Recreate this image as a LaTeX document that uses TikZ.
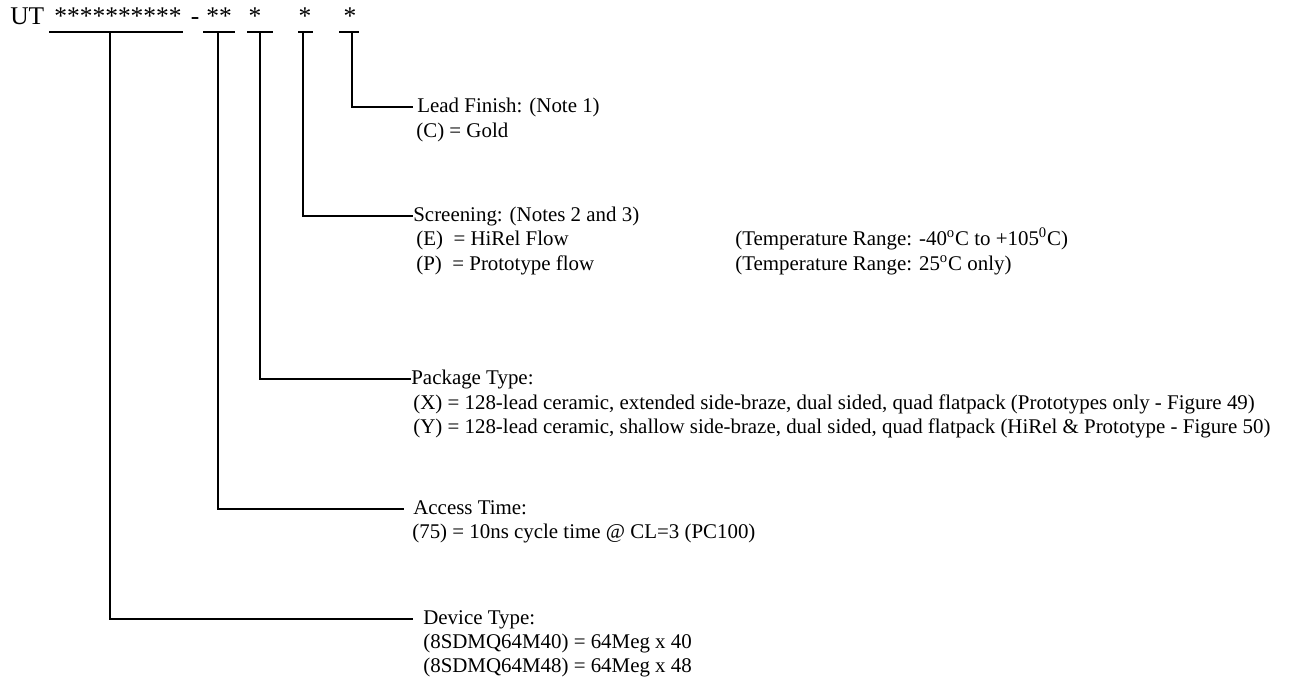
\documentclass[tikz,border=0pt]{standalone}
\usepackage{fontspec}
\setmainfont{Liberation Serif}
\usetikzlibrary{positioning}
\tikzset{
  partno/.style={font=\fontsize{14.5}{16}\selectfont, inner sep=0pt, anchor=base},
  uline/.style={line width=1.7pt, line cap=butt},
  leader/.style={line width=1.7pt, line join=miter, line cap=butt},
  entry/.style={font=\fontsize{11.9}{14}\selectfont, inner sep=0pt, anchor=west,
                text height=8.6pt, text depth=2.7pt},
}

\begin{document}
\begin{tikzpicture}[x=0.02cm, y=-0.02cm]
\useasboundingbox (0,0) rectangle (1297,685);
% part number
\node[partno, anchor=base west] (ut) at (10,25) {UT};
\node[partno] (devs) at (118,25) {**********};
\node[partno] (dash) at (195,25) {-};
\node[partno] (accs) at (219,25) {**};
\node[partno] (pkgs) at (255,25) {*};
\node[partno] (scrs) at (305,25) {*};
\node[partno] (leads) at (350,25) {*};
\draw[uline] (49,32) -- (183,32);
\draw[uline] (203,32) -- (235,32);
\draw[uline] (247,32) -- (273,32);
\draw[uline] (298,32) -- (313,32);
\draw[uline] (339,32) -- (359,32);
\coordinate (devtap) at (110,32);
\coordinate (acctap) at (218,32);
\coordinate (pkgtap) at (260,32);
\coordinate (scrtap) at (303,32);
\coordinate (leadtap) at (352,32);
% lead finish
\node[entry] (leadhd) at (417,107) {Lead Finish: (Note 1)};
\node[entry] (leadc) at (416,132) {(C) = Gold};
% screening
\node[entry] (scrhd) at (413,216) {Screening: (Notes 2 and 3)};
\node[entry] (scre) at (416,240) {(E)\ \ = HiRel Flow};
\node[entry] (scrp) at (416,265) {(P)\ \ = Prototype flow};
\node[entry] (scret) at (735,240) {(Temperature Range: -40\textsuperscript{o}C to +105\textsuperscript{0}C)};
\node[entry] (scrpt) at (735,265) {(Temperature Range: 25\textsuperscript{o}C only)};
% package type
\node[entry] (pkghd) at (411,379) {Package Type:};
\node[entry] (pkgx) at (413,404) {(X) = 128-lead ceramic, extended side-braze, dual sided, quad flatpack (Prototypes only - Figure 49)};
\node[entry] (pkgy) at (413,428) {(Y) = 128-lead ceramic, shallow side-braze, dual sided, quad flatpack (HiRel \& Prototype - Figure 50)};
% access time
\node[entry] (acchd) at (413,509) {Access Time:};
\node[entry] (acc75) at (412,533) {(75) = 10ns cycle time @ CL=3 (PC100)};
% device type
\node[entry] (devhd) at (423,619) {Device Type:};
\node[entry] (dev40) at (423,643) {(8SDMQ64M40) = 64Meg x 40};
\node[entry] (dev48) at (423,667) {(8SDMQ64M48) = 64Meg x 48};
% leaders
\draw[leader] (leadtap) |- ([xshift=-2pt]leadhd.west);
\draw[leader] (scrtap) |- (scrhd.west);
\draw[leader] (pkgtap) |- (pkghd.west);
\draw[leader] (acctap) |- ([xshift=-5pt]acchd.west);
\draw[leader] (devtap) |- ([xshift=-5.5pt]devhd.west);
\end{tikzpicture}
\end{document}
